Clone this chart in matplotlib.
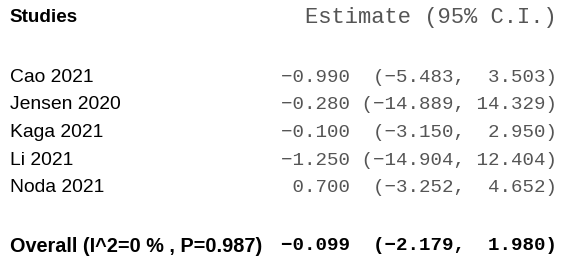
import matplotlib.pyplot as plt

# study rows
studies = ['Cao 2021', 'Jensen 2020', 'Kaga 2021', 'Li 2021', 'Noda 2021']
estimates = [-0.990, -0.280, -0.100, -1.250, 0.700]
ci_low = [-5.483, -14.889, -3.150, -14.904, -3.252]
ci_high = [3.503, 14.329, 2.950, 12.404, 4.652]

# pooled row
overall_label = 'Overall (I^2=0 % , P=0.987)'
overall_est = -0.099
overall_low = -2.179
overall_high = 1.980


def fmt(est, lo, hi):
    return f"{est:6.3f} {'(' + f'{lo:.3f}':>8}, {hi:6.3f})".replace('-', '\u2212')


fig = plt.figure(figsize=(5.66, 2.62), dpi=100)
ax = fig.add_axes([0, 0, 1, 1])
ax.set_xlim(0, 566)
ax.set_ylim(262, 0)
ax.axis('off')

sans = 'Liberation Sans'
mono = 'Liberation Mono'
x_left = 9.5
x_right = 557
mono_size = 13.8
gray = '#555555'

ax.text(x_left, 18, 'Studies', family=sans, fontsize=13.6, fontweight='bold',
        va='center', ha='left', color='black')
ax.text(x_right, 18, 'Estimate (95% C.I.)', family=mono, fontsize=15.9,
        va='center', ha='right', color=gray)

row_y0 = 77
row_step = 27.7
for i, name in enumerate(studies):
    y = row_y0 + i * row_step
    ax.text(x_left, y, name, family=sans, fontsize=13.9, va='center', ha='left', color='black')
    ax.text(x_right, y, fmt(estimates[i], ci_low[i], ci_high[i]), family=mono, fontsize=mono_size,
            va='center', ha='right', color=gray)

y_over = 246
ax.text(x_left, y_over, overall_label, family=sans, fontsize=14.3, fontweight='bold',
        va='center', ha='left', color='black')
ax.text(x_right, y_over, fmt(overall_est, overall_low, overall_high), family=mono, fontsize=mono_size,
        fontweight='bold', va='center', ha='right', color='black')

fig.savefig('out.png', dpi=100)
